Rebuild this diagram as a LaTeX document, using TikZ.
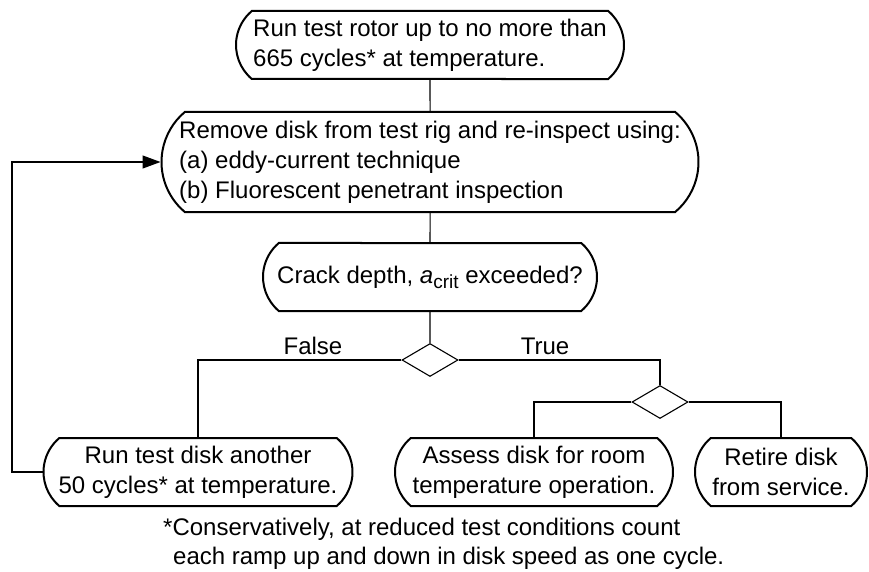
\documentclass[tikz,border=0pt]{standalone}
\usepackage{fontspec}
\setmainfont{Liberation Sans}
\usetikzlibrary{shapes.misc,shapes.geometric,arrows.meta}
\tikzset{
  pill/.style={rounded rectangle, rounded rectangle arc length=100, draw, line width=2pt, inner sep=0pt, align=left, font=\fontsize{24}{30}\selectfont},
  pillc/.style={pill, align=center},
  dec/.style={diamond, draw, line width=1.1pt, inner sep=0pt, minimum width=56pt, minimum height=33pt, aspect=1.7},
  conn/.style={line width=1.1pt},
  lbl/.style={font=\fontsize{24}{30}\selectfont, inner sep=0pt},
}
\begin{document}
\begin{tikzpicture}[x=1pt,y=-1pt]
\useasboundingbox (0,0) rectangle (869,572);
\node[pill, minimum width=388pt, minimum height=68pt] (top) at (430,45) {Run test rotor up to no more than\\665 cycles* at temperature.};
\node[pill, minimum width=537pt, minimum height=100pt] (insp) at (430,162) {Remove disk from test rig and re-inspect using:\\(a) eddy-current technique\\(b) Fluorescent penetrant inspection};
\node[pill, minimum width=334pt, minimum height=68pt] (crack) at (430,277) {Crack depth, \textit{a}\raisebox{-5pt}{\fontsize{19}{19}\selectfont crit} exceeded?};
\node[dec] (d1) at (430,360) {};
\node[dec] (d2) at (660,402) {};
\node[pillc, minimum width=309pt, minimum height=68pt] (left) at (198,472) {Run test disk another\\50 cycles* at temperature.};
\node[pillc, minimum width=278pt, minimum height=68pt] (mid) at (534,472) {Assess disk for room\\temperature operation.};
\node[pillc, minimum width=172pt, minimum height=68pt] (right) at (781,472) {Retire disk\\from service.};
\node[lbl] (false) at (313,346) {False};
\node[lbl] (true) at (545,346) {True};
\node[lbl, anchor=west] (fn1) at (163,529) {*Conservatively, at reduced test conditions count};
\node[lbl, anchor=west] (fn2) at (173,558) {each ramp up and down in disk speed as one cycle.};
\coordinate (c1) at (12,472);
\draw[conn] (top) -- (insp);
\draw[conn] (insp) -- (crack);
\draw[conn] (crack) -- (d1);
\draw[conn] (d1.west) -| (left.north);
\draw[conn] (d1.east) -| (d2.north);
\draw[conn] (d2.west) -| (mid.north);
\draw[conn] (d2.east) -| (right.north);
\draw[conn, -{Triangle[length=18pt,width=13pt]}] (left.west) -- (c1) |- (insp.west);
\end{tikzpicture}
\end{document}
